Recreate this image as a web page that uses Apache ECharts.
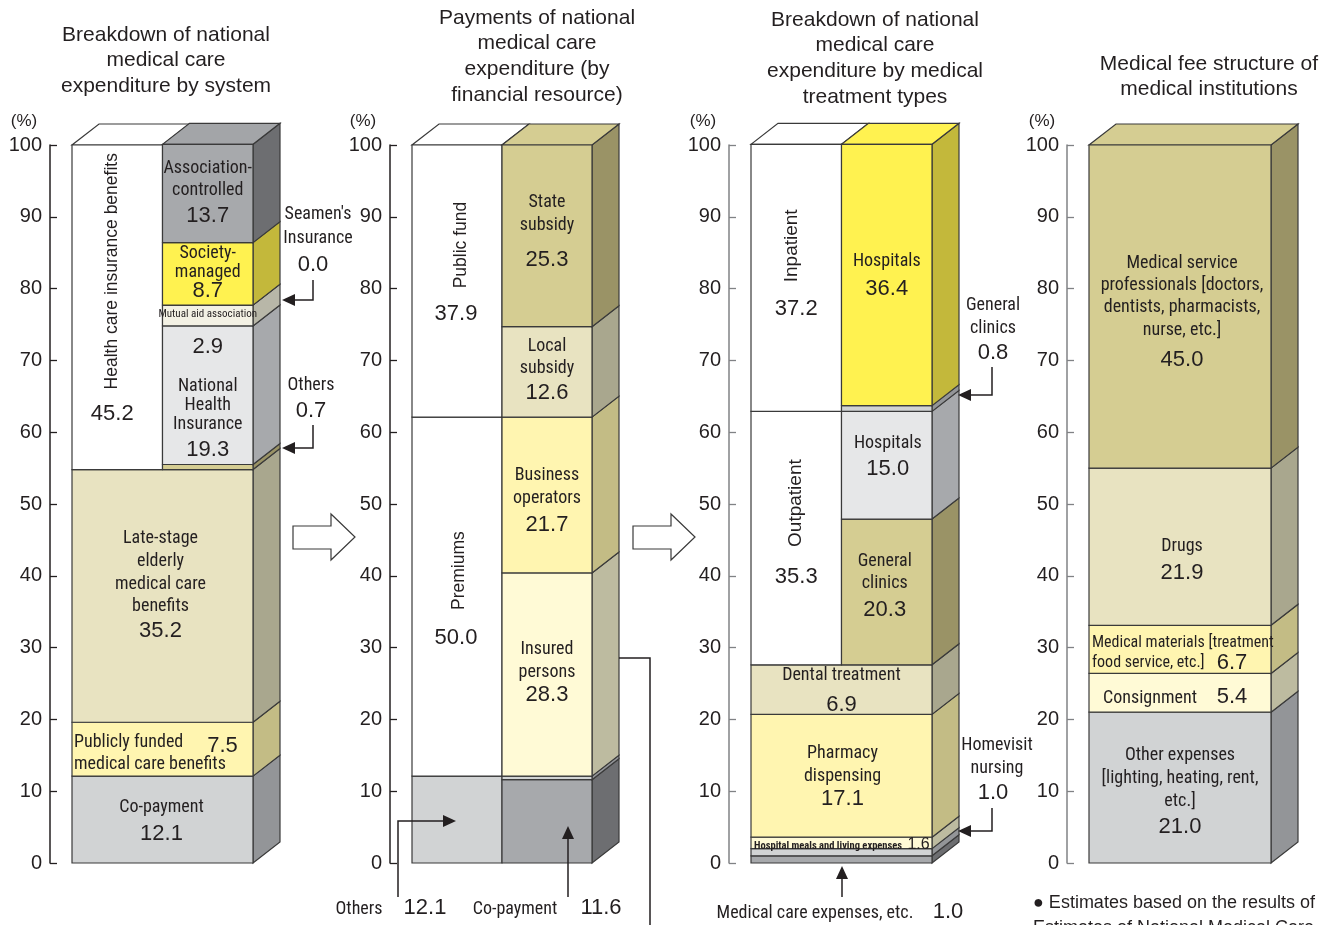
<!DOCTYPE html>
<html>
<head>
<meta charset="utf-8">
<script src="https://cdn.jsdelivr.net/npm/echarts/dist/echarts.min.js"></script>
<style>
html,body{margin:0;padding:0;background:#fff;}
#chart{width:1337px;height:925px;}
</style>
</head>
<body>
<div id="chart"></div>
<script>
// ---------------- DATA ----------------
// Panel 1: Breakdown of national medical care expenditure by system
const p1Labels = ['Co-payment','Publicly funded medical care benefits','Late-stage elderly medical care benefits','Health care insurance benefits','Others','National Health Insurance','Mutual aid association',"Seamen's Insurance",'Society-managed','Association-controlled'];
const p1Values = [12.1, 7.5, 35.2, 45.2, 0.7, 19.3, 2.9, 0.0, 8.7, 13.7];
const p1Columns = ['full','full','full','left','right','right','right','right','right','right'];

// Panel 2: Payments of national medical care expenditure (by financial resource)
const p2Labels = ['Others','Premiums','Public fund','Co-payment','Others','Insured persons','Business operators','Local subsidy','State subsidy'];
const p2Values = [12.1, 50.0, 37.9, 11.6, 0.5, 28.3, 21.7, 12.6, 25.3];
const p2Columns = ['left','left','left','right','right','right','right','right','right'];

// Panel 3: Breakdown by medical treatment types
const p3Labels = ['Medical care expenses, etc.','Homevisit nursing','Hospital meals and living expenses','Pharmacy dispensing','Dental treatment','Outpatient','Inpatient','General clinics','Hospitals','General clinics','Hospitals'];
const p3Values = [1.0, 1.0, 1.6, 17.1, 6.9, 35.3, 37.2, 20.3, 15.0, 0.8, 36.4];
const p3Columns = ['full','full','full','full','full','left','left','right','right','right','right'];

// Panel 4: Medical fee structure of medical institutions
const p4Labels = ['Other expenses [lighting, heating, rent, etc.]','Consignment','Medical materials [treatment food service, etc.]','Drugs','Medical service professionals [doctors, dentists, pharmacists, nurse, etc.]'];
const p4Values = [21.0, 5.4, 6.7, 21.9, 45.0];
const p4Columns = ['full','full','full','full','full'];

const yMin = 0, yMax = 100, yStep = 10;

// ---------------- STYLE ----------------
const PAL = {
  white:   ['#ffffff','#ffffff','#ffffff'],
  dgray:   ['#a7a9ac','#6d6e71','#a3a5a8'],
  lgray:   ['#d1d3d4','#939598','#d1d3d4'],
  vlgray:  ['#e6e7e8','#a7a9ac','#e6e7e8'],
  cream:   ['#f3f1e4','#b8b7a8','#f3f1e4'],
  yellow:  ['#fff250','#c3b83b','#fff250'],
  lyellow: ['#fff5b0','#c3bc85','#fff5b0'],
  vlyellow:['#fffad6','#bdbba0','#fffad6'],
  beige:   ['#e8e3c1','#a9a78e','#e8e3c1'],
  khaki:   ['#d5cd92','#9a9366','#d5cd92']
};
const p1Colors = ['lgray','lyellow','beige','white','khaki','vlgray','cream','cream','yellow','dgray'];
const p2Colors = ['lgray','white','white','dgray','lgray','vlyellow','lyellow','beige','khaki'];
const p3Colors = ['dgray','lgray','vlyellow','lyellow','beige','white','white','khaki','vlgray','lgray','yellow'];
const p4Colors = ['lgray','vlyellow','lyellow','beige','khaki'];

const FN = '"Liberation Sans Narrow","Arial Narrow","Roboto Condensed","DejaVu Sans Condensed",sans-serif';
const FR = '"Liberation Sans",Arial,Helvetica,sans-serif';
const INK = '#231f20';
const EDGE = '#3a3a3a';
const LW = 1.2;
const DX = 27, DY = 21;

const TS = {
  n:   {size:18, fam:FN, w:'normal'},
  ns:  {size:16, fam:FN, w:'normal'},
  v:   {size:22, fam:FR, w:'normal'},
  vs:  {size:16, fam:FR, w:'normal'},
  r:   {size:17.5, fam:FR, w:'normal', rot:true},
  r2:  {size:19, fam:FR, w:'normal', rot:true},
  tiny:{size:11, fam:FN, w:'normal'},
  tinyb:{size:10.5, fam:FN, w:'bold'}
};

// label layouts (offsets from segment centre, pixels)
const p1Text = [
  [{t:'Co-payment',dx:-1,dy:-12},{t:'$V',dx:-1,dy:14,s:'v'}],
  [{t:'Publicly funded',dx:-88.5,dy:-7,a:'left'},{t:'medical care benefits',dx:-88.5,dy:15,a:'left'},{t:'$V',dx:60,dy:-3,s:'v'}],
  [{t:'Late-stage',dx:-2,dy:-57},{t:'elderly',dx:-2,dy:-34},{t:'medical care',dx:-2,dy:-11},{t:'benefits',dx:-2,dy:11},{t:'$V',dx:-2,dy:35,s:'v'}],
  [{t:'Health care insurance benefits',dx:-5,dy:-36,s:'r'},{t:'$V',dx:-5,dy:107,s:'v'}],
  [],
  [{t:'National',dy:-9},{t:'Health',dy:10},{t:'Insurance',dy:29},{t:'$V',dy:55,s:'v'}],
  [{t:'Mutual aid association',dy:-1.5,s:'tiny'},{t:'$V',dy:31.5,s:'v'}],
  [],
  [{t:'Society-',dy:-20},{t:'managed',dy:-1},{t:'$V',dy:17,s:'v'}],
  [{t:'Association-',dy:-24.5},{t:'controlled',dy:-2.5},{t:'$V',dy:22.5,s:'v'}]
];
const p2Text = [
  [],
  [{t:'Premiums',dx:2,dy:-26,s:'r'},{t:'$V',dx:-1,dy:41,s:'v'}],
  [{t:'Public fund',dx:4,dy:-36,s:'r'},{t:'$V',dx:-1,dy:33,s:'v'}],
  [],
  [],
  [{t:'Insured',dy:-25.5},{t:'persons',dy:-2.5},{t:'$V',dy:20.5,s:'v'}],
  [{t:'Business',dy:-20},{t:'operators',dy:3},{t:'$V',dy:30,s:'v'}],
  [{t:'Local',dy:-25},{t:'subsidy',dy:-3},{t:'$V',dy:21,s:'v'}],
  [{t:'State',dy:-33},{t:'subsidy',dy:-10},{t:'$V',dy:24,s:'v'}]
];
const p3Text = [
  [],
  [],
  [{t:'Hospital meals and living expenses',dx:-87.5,dy:3,s:'tinyb',a:'left'},{t:'$V',dx:77,dy:2,s:'vs'}],
  [{t:'Pharmacy',dx:1,dy:-22},{t:'dispensing',dx:1,dy:1},{t:'$V',dx:1,dy:23,s:'v'}],
  [{t:'Dental treatment',dy:-14},{t:'$V',dy:15,s:'v'}],
  [{t:'Outpatient',dy:-35,s:'r2'},{t:'$V',dy:39,s:'v'}],
  [{t:'Inpatient',dx:-4,dy:-32,s:'r2'},{t:'$V',dy:31,s:'v'}],
  [{t:'General',dx:-2,dy:-30},{t:'clinics',dx:-2,dy:-8},{t:'$V',dx:-2,dy:18,s:'v'}],
  [{t:'Hospitals',dx:1,dy:-22},{t:'$V',dx:1,dy:4,s:'v'}],
  [],
  [{t:'Hospitals',dy:-13},{t:'$V',dy:14,s:'v'}]
];
const p4Text = [
  [{t:'Other expenses',dy:-32},{t:'[lighting, heating, rent,',dy:-9},{t:'etc.]',dy:14},{t:'$V',dy:39,s:'v'}],
  [{t:'Consignment',dx:-30,dy:6},{t:'$V',dx:52,dy:4,s:'v'}],
  [{t:'Medical materials [treatment',dx:-88,dy:-6,a:'left',s:'ns'},{t:'food service, etc.]',dx:-88,dy:14,a:'left',s:'ns'},{t:'$V',dx:52,dy:14,s:'v'}],
  [{t:'Drugs',dx:2,dy:0},{t:'$V',dx:2,dy:26,s:'v'}],
  [{t:'Medical service',dx:2,dy:-43},{t:'professionals [doctors,',dx:2,dy:-21},{t:'dentists, pharmacists,',dx:2,dy:1},{t:'nurse, etc.]',dx:2,dy:24},{t:'$V',dx:2,dy:53,s:'v'}]
];

// ---------------- BUILD ----------------
function buildSegments(values, cols){
  let fullTop = 0;
  values.forEach((v,i)=>{ if(cols[i]==='full') fullTop += v; });
  const hasCols = cols.some(c=>c!=='full');
  let fullAcc = 0;
  const tops = {left: fullTop, right: fullTop};
  const segs = values.map((v,i)=>{
    const c = cols[i];
    let s;
    if(c==='full'){ s = {x0:0,x1:2,y0:fullAcc,y1:fullAcc+v}; fullAcc += v; }
    else { s = {x0:c==='left'?0:1, x1:c==='left'?1:2, y0:tops[c], y1:tops[c]+v}; tops[c] += v; }
    s.right = (c!=='left');
    return s;
  });
  if(hasCols){
    ['left','right'].forEach(c=>{ const idx = cols.lastIndexOf(c); if(idx>=0) segs[idx].top = true; });
  } else {
    segs[segs.length-1].top = true;
  }
  return segs;
}

const panels = [
  {values:p1Values, labels:p1Labels, cols:p1Columns, colors:p1Colors, texts:p1Text, left:72,  width:181, axisColor:'#231f20'},
  {values:p2Values, labels:p2Labels, cols:p2Columns, colors:p2Colors, texts:p2Text, left:412, width:180, axisColor:'#231f20'},
  {values:p3Values, labels:p3Labels, cols:p3Columns, colors:p3Colors, texts:p3Text, left:751, width:181, axisColor:'#808285'},
  {values:p4Values, labels:p4Labels, cols:p4Columns, colors:p4Colors, texts:p4Text, left:1089,width:182, axisColor:'#808285'}
];
panels.forEach(p=>{ p.segs = buildSegments(p.values, p.cols); });

function makeRender(p){
  return function(params, api){
    const i = params.dataIndex;
    const bl = api.coord([api.value(0), api.value(2)]);
    const tr = api.coord([api.value(1), api.value(3)]);
    const x0 = bl[0], yb = bl[1], x1 = tr[0], yt = tr[1];
    const s = p.segs[i];
    const c = PAL[p.colors[i]];
    const kids = [];
    if(s.right){
      kids.push({type:'polygon', shape:{points:[[x1,yt],[x1,yb],[x1+DX,yb-DY],[x1+DX,yt-DY]]}, style:{fill:c[1], stroke:EDGE, lineWidth:LW}});
    }
    if(s.top){
      kids.push({type:'polygon', shape:{points:[[x0,yt],[x1,yt],[x1+DX,yt-DY],[x0+DX,yt-DY]]}, style:{fill:c[2], stroke:EDGE, lineWidth:LW}});
    }
    kids.push({type:'rect', shape:{x:x0, y:yt, width:x1-x0, height:yb-yt}, style:{fill:c[0], stroke:EDGE, lineWidth:LW}});
    const cx = (x0+x1)/2, cy = (yt+yb)/2;
    (p.texts[i]||[]).forEach(it=>{
      const st = TS[it.s||'n'];
      const txt = it.t.replace('$V', p.values[i].toFixed(1));
      kids.push({
        type:'text', x: cx+(it.dx||0), y: cy+(it.dy||0), rotation: st.rot ? Math.PI/2 : 0, z2:100,
        style:{text:txt, fill:INK, fontSize:st.size, fontFamily:st.fam, fontWeight:st.w, align: it.a||'center', verticalAlign:'middle'}
      });
    });
    return {type:'group', children:kids};
  };
}

const grids=[], xAxes=[], yAxes=[], series=[];
panels.forEach((p,k)=>{
  grids.push({left:p.left, top:145, width:p.width, height:718});
  xAxes.push({gridIndex:k, type:'value', min:0, max:2, show:false});
  yAxes.push({gridIndex:k, type:'value', min:yMin, max:yMax, interval:yStep, offset:22, position:'left', z:10,
    axisLine:{show:true, onZero:false, lineStyle:{color:p.axisColor, width:1.5}},
    axisTick:{show:true, inside:true, length:7, lineStyle:{color:p.axisColor, width:1.3}},
    axisLabel:{fontSize:20, color:INK, margin:8, fontFamily:FR},
    splitLine:{show:false}});
  series.push({
    type:'custom', name:'panel'+(k+1), xAxisIndex:k, yAxisIndex:k,
    renderItem: makeRender(p),
    encode:{x:[0,1], y:[2,3]},
    data: p.segs.map((s,i)=>[s.x0, s.x1, s.y0, s.y1, i])
  });
});

// ---------------- ANNOTATIONS ----------------
const G = [];
function txt(x,y,t,size,fam,align,extra){
  G.push(Object.assign({type:'text', x:x, y:y, z:50, style:Object.assign({text:t, fill:INK, fontSize:size, fontFamily:fam, align:align||'center', verticalAlign:'middle'}, extra||{})}));
}
function callout(pts){
  const n = pts.length, tip = pts[n-1], prev = pts[n-2];
  const dx = tip[0]-prev[0], dy = tip[1]-prev[1], L = Math.hypot(dx,dy);
  const ux = dx/L, uy = dy/L, hl = 13, hw = 6;
  const base = [tip[0]-ux*hl, tip[1]-uy*hl];
  const line = pts.slice(0,n-1).concat([base]);
  G.push({type:'polyline', z:50, shape:{points:line}, style:{stroke:INK, lineWidth:1.5, fill:null}});
  G.push({type:'polygon', z:50, shape:{points:[tip,[base[0]-uy*hw, base[1]+ux*hw],[base[0]+uy*hw, base[1]-ux*hw]]}, style:{fill:INK}});
}
function hollowArrow(ox){
  G.push({type:'polygon', z:50, shape:{points:[[ox,526],[ox+38,526],[ox+38,514],[ox+62,537],[ox+38,560],[ox+38,549],[ox,549]]}, style:{fill:'#fff', stroke:'#3a3a3a', lineWidth:1.2}});
}

// titles
const TL = 25.7;
txt(166, 22, 'Breakdown of national\nmedical care\nexpenditure by system', 21, FR, 'center', {verticalAlign:'top', lineHeight:TL});
txt(537, 5, 'Payments of national\nmedical care\nexpenditure (by\nfinancial resource)', 21, FR, 'center', {verticalAlign:'top', lineHeight:TL});
txt(875, 7, 'Breakdown of national\nmedical care\nexpenditure by medical\ntreatment types', 21, FR, 'center', {verticalAlign:'top', lineHeight:TL});
txt(1209, 51, 'Medical fee structure of\nmedical institutions', 21, FR, 'center', {verticalAlign:'top', lineHeight:TL});

// (%) units
[24, 363, 703, 1042].forEach(x=>txt(x, 121, '(%)', 17, FR));

// Panel 1 callouts
txt(318, 214, "Seamen's", 18, FN);
txt(318, 238, 'Insurance', 18, FN);
txt(313, 265, p1Values[7].toFixed(1), 22, FR);
callout([[313,280],[313,300],[282,300]]);
txt(311, 385, 'Others', 18, FN);
txt(311, 411, p1Values[4].toFixed(1), 22, FR);
callout([[313,425],[313,448],[282,448]]);

// Panel 2 callouts
txt(359, 909, 'Others', 18, FN);
txt(425, 908, p2Values[0].toFixed(1), 22, FR);
callout([[398,897],[398,821],[456,821]]);
txt(515, 909, 'Co-payment', 18, FN);
txt(601, 908, p2Values[3].toFixed(1), 22, FR);
callout([[568,897],[568,826]]);
G.push({type:'polyline', z:50, shape:{points:[[619,658],[650,658],[650,935]]}, style:{stroke:INK, lineWidth:1.5, fill:null}});

// Panel 3 callouts
txt(993, 305, 'General', 18, FN);
txt(993, 328, 'clinics', 18, FN);
txt(993, 353, p3Values[9].toFixed(1), 22, FR);
callout([[992,367],[992,395],[958,395]]);
txt(997, 745, 'Homevisit', 18, FN);
txt(997, 768, 'nursing', 18, FN);
txt(993, 793, p3Values[1].toFixed(1), 22, FR);
callout([[992,808],[992,831],[958,831]]);
txt(815, 913, 'Medical care expenses, etc.', 18, FN);
txt(948, 912, p3Values[0].toFixed(1), 22, FR);
callout([[842,897],[842,866]]);

// arrows between panels
hollowArrow(293);
hollowArrow(633);

// note
txt(1033, 903, '\u25CF Estimates based on the results of', 18, FR, 'left');
txt(1033, 928, 'Estimates of National Medical Care', 18, FR, 'left');

const chart = echarts.init(document.getElementById('chart'));
chart.setOption({
  animation:false,
  backgroundColor:'#ffffff',
  grid:grids, xAxis:xAxes, yAxis:yAxes, series:series,
  graphic:{elements:G}
});
</script>
</body>
</html>
